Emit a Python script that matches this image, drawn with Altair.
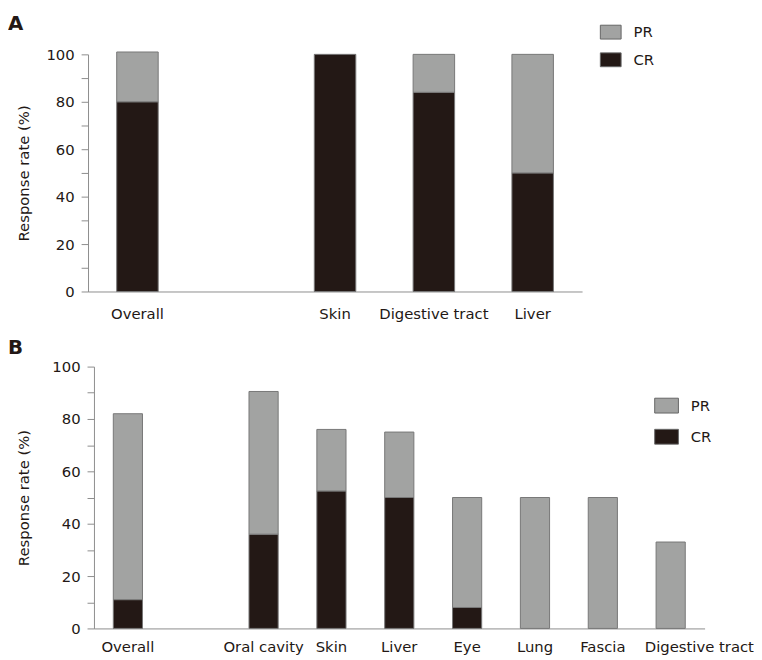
import altair as alt
import pandas as pd

# ---- Panel A data ----
a_categories = ["Overall", "Skin", "Digestive tract", "Liver"]
a_cr = [80, 100, 84, 50]
a_pr = [21, 0, 16, 50]
a_axis = ["Overall", " ", "Skin", "Digestive tract", "Liver"]

# ---- Panel B data ----
b_categories = ["Overall", "Oral cavity", "Skin", "Liver", "Eye", "Lung", "Fascia", "Digestive tract"]
b_cr = [11, 36, 52.5, 50, 8, 0, 0, 0]
b_pr = [71, 54.5, 23.5, 25, 42, 50, 50, 33]
b_axis = ["Overall", " ", "Oral cavity", "Skin", "Liver", "Eye", "Lung", "Fascia", "Digestive tract"]

series = ["PR", "CR"]
colors = ["#a2a3a2", "#231815"]
y_ticks = list(range(0, 101, 10))
FONT = "DejaVu Sans"
TXT = "#231815"
AXC = "#8c8c8c"


def table(cats, cr, pr):
    rows = []
    for c, v1, v2 in zip(cats, cr, pr):
        if v1 > 0:
            rows.append({"cat": c, "resp": "CR", "val": v1, "ord": 0})
        if v2 > 0:
            rows.append({"cat": c, "resp": "PR", "val": v2, "ord": 1})
    return pd.DataFrame(rows)


def panel(df, axis_cats, w, h, x0, bar_frac, letter, letter_x, letter_y,
          lx, ly, sym_w, sym_h, row_pad, lab_off, title_pad, x_lab_pad, last_shift):
    hh = sym_h / sym_w
    path = f"M-1,-{hh:.3f}H1V{hh:.3f}H-1Z"
    bars = alt.Chart(df).mark_bar(
        width=alt.RelativeBandSize(bar_frac), stroke="#777777", strokeWidth=1
    ).encode(
        x=alt.X("cat:N",
                scale=alt.Scale(domain=axis_cats, range=[x0, w],
                                paddingInner=0, paddingOuter=0),
                axis=alt.Axis(title=None, labelAngle=0, ticks=False, tickSize=0,
                              labelPadding=x_lab_pad, domainColor=AXC,
                              labelOffset={"condition": {"test": "datum.value == 'Digestive tract'",
                                                         "value": last_shift},
                                           "value": 0})),
        y=alt.Y("val:Q", stack="zero",
                scale=alt.Scale(domain=[0, 100], nice=False),
                axis=alt.Axis(title="Response rate (%)", values=y_ticks,
                              labelExpr="datum.value % 20 == 0 ? datum.label : ''",
                              tickSize=7, labelPadding=7, titlePadding=title_pad,
                              offset=-x0,
                              grid=False, domainColor=AXC, tickColor=AXC)),
        color=alt.Color("resp:N",
                        scale=alt.Scale(domain=series, range=colors),
                        legend=alt.Legend(title=None, orient="none",
                                          legendX=lx, legendY=ly,
                                          symbolType=path, symbolSize=sym_w ** 2,
                                          symbolStrokeColor="#666666",
                                          symbolStrokeWidth=1,
                                          rowPadding=row_pad, labelOffset=lab_off,
                                          labelFontSize=15, labelFont=FONT,
                                          labelColor=TXT, padding=0)),
        order=alt.Order("ord:Q"),
    )
    lab = alt.Chart(pd.DataFrame({"t": [letter]})).mark_text(
        align="left", baseline="alphabetic", fontSize=20, fontWeight="bold",
        font=FONT, color=TXT
    ).encode(text="t:N", x=alt.value(letter_x), y=alt.value(letter_y))
    return alt.layer(bars, lab).properties(width=w, height=h)


chart_a = panel(table(a_categories, a_cr, a_pr), a_axis, 500, 240, 0, 0.42,
                "A", -81, -25, 518, -33.5, 21, 14, 7, 12, 15, 15, 0)
chart_b = panel(table(b_categories, b_cr, b_pr), b_axis, 624, 265, 6, 0.43,
                "B", -81, -13, 573, 27, 24, 15, 9.5, 12, 21, 11, 29)

chart = alt.vconcat(chart_a, chart_b, spacing=17).resolve_scale(
    color="independent"
).properties(
    padding={"left": 0, "top": 2, "right": 0, "bottom": 0}
).configure(
    font=FONT
).configure_view(stroke=None).configure_axis(
    labelFont=FONT, titleFont=FONT, labelFontSize=15, titleFontSize=15,
    titleFontWeight="normal", labelColor=TXT, titleColor=TXT
)

chart.save("out.html", embed_options={"renderer": "svg", "actions": False})
